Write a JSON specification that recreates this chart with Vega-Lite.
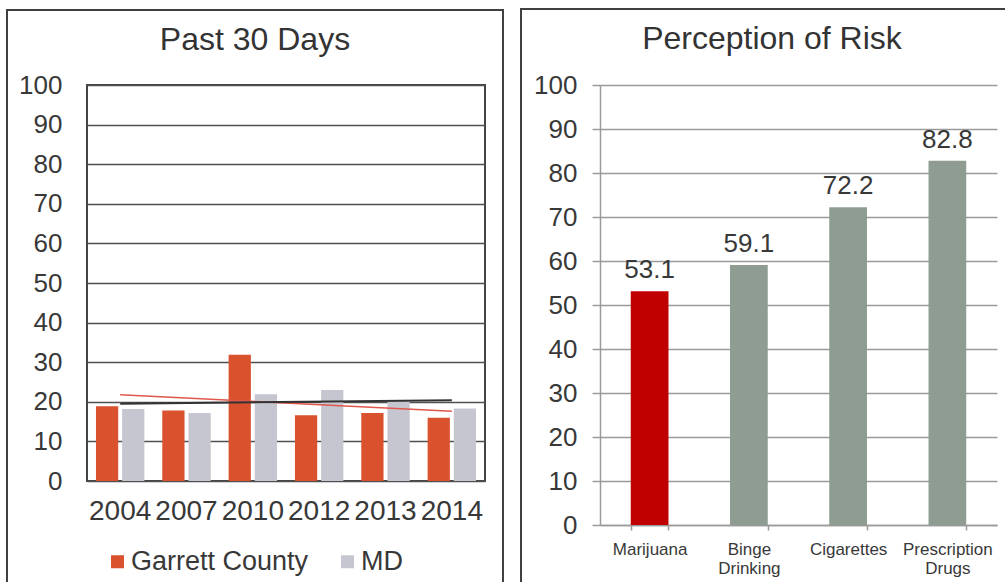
{
  "$schema": "https://vega.github.io/schema/vega-lite/v6.json",
  "padding": {"left": 4, "top": 7, "right": 0, "bottom": 0},
  "background": "white",
  "spacing": 13,
  "resolve": {"scale": {"color": "independent"}, "legend": {"color": "independent"}},
  "config": {
    "font": "Liberation Sans",
    "view": {"stroke": null},
    "axis": {"labelFont": "Liberation Sans", "labelColor": "#383838"},
    "legend": {"labelFont": "Liberation Sans", "labelColor": "#383838"}
  },
  "datasets": {
    "past30": [
      {"year": "2004", "series": "Garrett County", "value": 18.9},
      {"year": "2004", "series": "MD", "value": 18.2},
      {"year": "2007", "series": "Garrett County", "value": 17.8},
      {"year": "2007", "series": "MD", "value": 17.2},
      {"year": "2010", "series": "Garrett County", "value": 31.9},
      {"year": "2010", "series": "MD", "value": 21.9},
      {"year": "2012", "series": "Garrett County", "value": 16.6},
      {"year": "2012", "series": "MD", "value": 23.0},
      {"year": "2013", "series": "Garrett County", "value": 17.2},
      {"year": "2013", "series": "MD", "value": 20.2},
      {"year": "2014", "series": "Garrett County", "value": 16.0},
      {"year": "2014", "series": "MD", "value": 18.3}
    ],
    "trend": [
      {"year": "2004", "series": "Garrett County", "value": 21.8},
      {"year": "2014", "series": "Garrett County", "value": 17.6},
      {"year": "2004", "series": "MD", "value": 19.5},
      {"year": "2014", "series": "MD", "value": 20.4}
    ],
    "risk": [
      {"substance": "Marijuana", "value": 53.1},
      {"substance": "Binge Drinking", "value": 59.1},
      {"substance": "Cigarettes", "value": 72.2},
      {"substance": "Prescription Drugs", "value": 82.8}
    ]
  },
  "hconcat": [
    {
      "width": 398,
      "height": 396,
      "title": {"text": "Past 30 Days", "font": "Liberation Sans", "fontSize": 32, "fontWeight": "normal", "color": "#333333", "anchor": "middle", "frame": "bounds", "offset": -48},
      "view": {"stroke": "#444444", "strokeWidth": 2},
      "resolve": {"scale": {"x": "independent", "y": "independent"}},
      "layer": [
        {
          "encoding": {
            "x": {"field": "year", "type": "nominal", "scale": {"paddingInner": 0.27, "paddingOuter": 0.135},
                  "axis": {"title": null, "labelAngle": 0, "labelFontSize": 28, "ticks": false, "domain": false, "labelPadding": 16, "labelOverlap": false, "grid": false}},
            "y": {"field": "value", "type": "quantitative", "scale": {"domain": [0, 100], "nice": false},
                  "axis": {"title": null, "values": [0, 10, 20, 30, 40, 50, 60, 70, 80, 90, 100], "labelFontSize": 26, "labelOverlap": false, "ticks": false, "tickSize": 0, "domain": false, "labelPadding": 25, "grid": true, "gridColor": "#505050", "gridWidth": 1.5}}
          },
          "layer": [
            {
              "data": {"name": "past30"},
              "mark": {"type": "bar"},
              "encoding": {
                "xOffset": {"field": "series", "type": "nominal", "sort": ["Garrett County", "MD"], "scale": {"paddingInner": 0.15, "paddingOuter": 0}},
                "color": {"field": "series", "type": "nominal", "scale": {"domain": ["Garrett County", "MD"], "range": ["#D9512D", "#C6C6D0"]},
                          "legend": {"orient": "none", "legendX": 17, "legendY": 463, "direction": "horizontal", "title": null, "symbolType": "square", "symbolSize": 169, "symbolStrokeWidth": 0, "labelFontSize": 27, "labelOffset": 0, "columnPadding": 25, "labelLimit": 400}}
              }
            },
            {
              "data": {"name": "trend"},
              "transform": [{"filter": "datum.series == 'Garrett County'"}],
              "mark": {"type": "line", "color": "#E0574C", "strokeWidth": 1.5}
            },
            {
              "data": {"name": "trend"},
              "transform": [{"filter": "datum.series == 'MD'"}],
              "mark": {"type": "line", "color": "#333333", "strokeWidth": 2}
            }
          ]
        },
        {
          "data": {"values": [{}]},
          "mark": {"type": "rule", "color": "#404040", "strokeWidth": 2, "strokeCap": "square"},
          "encoding": {
            "x": {"datum": -0.201, "type": "quantitative", "scale": {"domain": [0, 1], "nice": false, "zero": false}, "axis": null},
            "y": {"datum": 1.1894, "type": "quantitative", "scale": {"domain": [0, 1], "nice": false, "zero": false}, "axis": null},
            "y2": {"datum": -0.255}
          }
        },
        {
          "data": {"values": [{}]},
          "mark": {"type": "rule", "color": "#404040", "strokeWidth": 2, "strokeCap": "square"},
          "encoding": {
            "x": {"datum": -0.201, "type": "quantitative", "scale": {"domain": [0, 1], "nice": false, "zero": false}, "axis": null},
            "x2": {"datum": 1.0452},
            "y": {"datum": 1.1894, "type": "quantitative", "scale": {"domain": [0, 1], "nice": false, "zero": false}, "axis": null}
          }
        },
        {
          "data": {"values": [{}]},
          "mark": {"type": "rule", "color": "#404040", "strokeWidth": 2, "strokeCap": "square"},
          "encoding": {
            "x": {"datum": 1.0452, "type": "quantitative", "scale": {"domain": [0, 1], "nice": false, "zero": false}, "axis": null},
            "y": {"datum": 1.1894, "type": "quantitative", "scale": {"domain": [0, 1], "nice": false, "zero": false}, "axis": null},
            "y2": {"datum": -0.255}
          }
        }
      ]
    },
    {
      "width": 397,
      "height": 440,
      "title": {"text": "Perception of Risk", "font": "Liberation Sans", "fontSize": 32, "fontWeight": "normal", "color": "#333333", "anchor": "middle", "frame": "bounds", "offset": -48, "dx": 8},
      "view": {"stroke": null},
      "resolve": {"scale": {"x": "independent", "y": "independent"}},
      "layer": [
        {
          "data": {"name": "risk"},
          "encoding": {
            "x": {"field": "substance", "type": "nominal", "sort": null, "scale": {"paddingInner": 0.62, "paddingOuter": 0.31},
                  "axis": {"title": null, "labelAngle": 0, "labelFontSize": 17, "labelLineHeight": 19, "labelExpr": "split(datum.label, ' ')", "tickBand": "extent", "ticks": true, "tickSize": 5, "tickColor": "#9a9a9a", "tickWidth": 1.5, "domainColor": "#9a9a9a", "domainWidth": 1.5, "labelPadding": 11, "grid": false, "labelOverlap": false}},
            "y": {"field": "value", "type": "quantitative", "scale": {"domain": [0, 100], "nice": false},
                  "axis": {"title": null, "values": [0, 10, 20, 30, 40, 50, 60, 70, 80, 90, 100], "labelFontSize": 26, "labelOverlap": false, "ticks": true, "tickSize": 8, "tickColor": "#9a9a9a", "tickWidth": 1.5, "domain": true, "domainColor": "#9a9a9a", "domainWidth": 1.5, "labelPadding": 15, "grid": true, "gridColor": "#9a9a9a", "gridWidth": 1.5}}
          },
          "layer": [
            {
              "mark": {"type": "bar"},
              "encoding": {
                "color": {"field": "substance", "type": "nominal", "scale": {"domain": ["Marijuana", "Binge Drinking", "Cigarettes", "Prescription Drugs"], "range": ["#C00000", "#8E9C92", "#8E9C92", "#8E9C92"]}, "legend": null}
              }
            },
            {
              "mark": {"type": "text", "baseline": "alphabetic", "dy": -13, "fontSize": 26, "color": "#383838", "font": "Liberation Sans"},
              "encoding": {
                "text": {"field": "value", "type": "quantitative", "format": ".1f"}
              }
            }
          ]
        },
        {
          "data": {"values": [{}]},
          "mark": {"type": "rule", "color": "#404040", "strokeWidth": 2, "strokeCap": "square"},
          "encoding": {
            "x": {"datum": -0.199, "type": "quantitative", "scale": {"domain": [0, 1], "nice": false, "zero": false}, "axis": null},
            "y": {"datum": 1.1727, "type": "quantitative", "scale": {"domain": [0, 1], "nice": false, "zero": false}, "axis": null},
            "y2": {"datum": -0.127}
          }
        },
        {
          "data": {"values": [{}]},
          "mark": {"type": "rule", "color": "#404040", "strokeWidth": 2, "strokeCap": "square"},
          "encoding": {
            "x": {"datum": -0.199, "type": "quantitative", "scale": {"domain": [0, 1], "nice": false, "zero": false}, "axis": null},
            "x2": {"datum": 1.025},
            "y": {"datum": 1.1727, "type": "quantitative", "scale": {"domain": [0, 1], "nice": false, "zero": false}, "axis": null}
          }
        }
      ]
    }
  ]
}
